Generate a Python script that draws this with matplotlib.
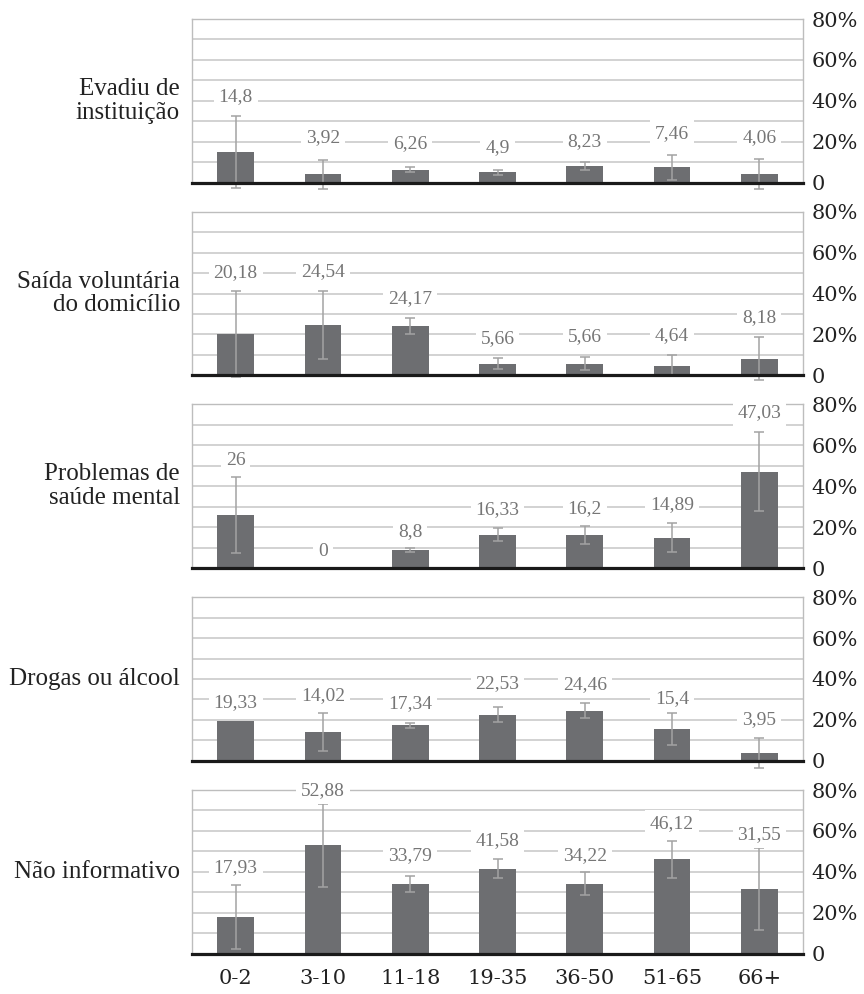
import matplotlib
matplotlib.use("Agg")
import matplotlib.pyplot as plt
import numpy as np

plt.rcParams["font.family"] = ["Liberation Serif", "DejaVu Serif"]
NUM_FONT = ["DejaVu Serif"]

# Age groups (x axis)
categories = ["0-2", "3-10", "11-18", "19-35", "36-50", "51-65", "66+"]

# Reasons for disappearance (one panel each)
groups = [
    "Evadiu de\ninstituição",
    "Saída voluntária\ndo domicílio",
    "Problemas de\nsaúde mental",
    "Drogas ou álcool",
    "Não informativo",
]

# Percentages per age group and their error margins
evadiu = [14.8, 3.92, 6.26, 4.9, 8.23, 7.46, 4.06]
evadiu_err = [17.7, 7.3, 1.3, 1.0, 2.0, 6.0, 7.4]

saida = [20.18, 24.54, 24.17, 5.66, 5.66, 4.64, 8.18]
saida_err = [21.0, 16.8, 3.9, 2.6, 3.2, 5.2, 10.5]

saude = [26, 0, 8.8, 16.33, 16.2, 14.89, 47.03]
saude_err = [18.5, 0, 0.8, 3.1, 4.3, 7.2, 19.3]

drogas = [19.33, 14.02, 17.34, 22.53, 24.46, 15.4, 3.95]
drogas_err = [0, 9.2, 1.3, 3.8, 3.7, 7.8, 7.3]

nao_inf = [17.93, 52.88, 33.79, 41.58, 34.22, 46.12, 31.55]
nao_inf_err = [15.7, 20.4, 3.9, 4.7, 5.6, 9.1, 20.0]

tick_vals = [0, 20, 40, 60, 80]
tick_labels = ["0", "20%", "40%", "60%", "80%"]

# Vertical placement of the value labels (in axis units)
label_y = [
    [42.2, 22.2, 19.0, 17.3, 20.1, 23.9, 21.9],
    [50.3, 50.9, 37.7, 17.9, 18.8, 19.5, 28.0],
    [52.4, 7.9, 17.7, 28.8, 29.1, 31.1, 76.0],
    [28.4, 31.7, 28.1, 37.7, 37.4, 30.6, 19.9],
    [41.9, 79.5, 48.1, 55.1, 48.1, 63.7, 58.4],
]

series = [evadiu, saida, saude, drogas, nao_inf]
errors = [evadiu_err, saida_err, saude_err, drogas_err, nao_inf_err]

W, H = 864, 994
fig = plt.figure(figsize=(W / 100, H / 100), dpi=100)

left_px, right_px = 192, 803
panel_h = 163.5
pitch = 192.75
top0 = 19

bar_color = "#6d6e71"
err_color = "#a3a3a3"
grid_color = "#c6c6c6"
frame_color = "#bdbdbd"
label_color = "#767676"
text_color = "#222222"

x = np.arange(len(categories))

for i, (name, vals, errs, ly) in enumerate(zip(groups, series, errors, label_y)):
    top = top0 + i * pitch
    base = top + panel_h
    ax = fig.add_axes([left_px / W, 1 - base / H,
                       (right_px - left_px) / W, panel_h / H])
    ax.set_xlim(-0.5, len(categories) - 0.5)
    ax.set_ylim(0, 80)

    for g in range(10, 80, 10):
        ax.axhline(g, color=grid_color, lw=1.1, zorder=0.5)

    ax.bar(x, vals, width=0.42, color=bar_color, zorder=2)

    vals_a = np.array(vals, dtype=float)
    errs_a = np.array(errs, dtype=float)
    m = errs_a > 0
    eb = ax.errorbar(x[m], vals_a[m], yerr=errs_a[m], fmt="none",
                     ecolor=err_color, elinewidth=1.1, capsize=3.5,
                     capthick=1.1, zorder=3)
    for artist in eb.lines[1]:
        artist.set_clip_on(False)
    for coll in eb.lines[2]:
        coll.set_clip_on(False)

    for xi, v, yy in zip(x, vals, ly):
        ax.text(xi, yy, f"{v:g}".replace(".", ","), ha="center", va="center",
                fontsize=14, color=label_color, zorder=6, clip_on=False,
                bbox=dict(boxstyle="square,pad=0.25", fc="white", ec="none"))

    for side in ("top", "left", "right"):
        ax.spines[side].set_color(frame_color)
        ax.spines[side].set_linewidth(1.0)
    ax.spines["bottom"].set_color("#1a1a1a")
    ax.spines["bottom"].set_linewidth(2.3)
    ax.spines["bottom"].set_zorder(4)

    ax.yaxis.tick_right()
    ax.set_yticks(tick_vals)
    ax.set_yticklabels(tick_labels, family=NUM_FONT)
    ax.tick_params(axis="y", length=0, pad=6, labelsize=15,
                   labelcolor=text_color)
    for lbl in ax.get_yticklabels():
        lbl.set_horizontalalignment("left")

    ax.set_xticks(x)
    if i == len(groups) - 1:
        ax.set_xticklabels(categories, family=NUM_FONT)
        ax.tick_params(axis="x", length=0, pad=11, labelsize=15,
                       labelcolor=text_color)
    else:
        ax.set_xticklabels([])
        ax.tick_params(axis="x", length=0)

    fig.text(180 / W, 1 - (top + panel_h / 2) / H, name, ha="right",
             va="center", fontsize=18, color=text_color, linespacing=1.1)

fig.savefig("out.png", dpi=100, facecolor="white")
